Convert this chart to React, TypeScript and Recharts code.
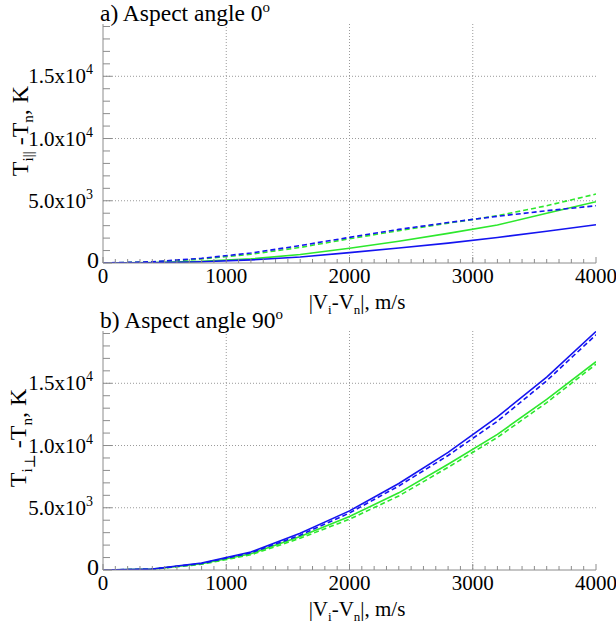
import React from "react";
import { CartesianGrid, Line, LineChart, XAxis, YAxis } from "recharts";

// |Vi - Vn|, m/s
const SPEED = [0, 400, 800, 1200, 1600, 2000, 2400, 2800, 3200, 3600, 4000];

// a) aspect angle 0°: Ti|| - Tn, K
const PAR_BLUE = [0, 20, 100, 250, 480, 830, 1200, 1600, 2050, 2550, 3075];
const PAR_BLUE_DASH = [0, 100, 380, 800, 1400, 2060, 2700, 3250, 3750, 4200, 4600];
const PAR_GREEN = [0, 30, 130, 330, 680, 1180, 1750, 2380, 3050, 4000, 4920];
const PAR_GREEN_DASH = [0, 80, 320, 700, 1250, 1950, 2600, 3200, 3800, 4600, 5540];

// b) aspect angle 90°: Ti⊥ - Tn, K
const PERP_BLUE = [0, 80, 560, 1450, 2950, 4750, 6950, 9450, 12300, 15500, 19160];
const PERP_BLUE_DASH = [0, 70, 520, 1380, 2800, 4580, 6750, 9200, 11950, 15200, 18900];
const PERP_GREEN = [0, 70, 500, 1300, 2700, 4300, 6200, 8500, 10900, 13700, 16740];
const PERP_GREEN_DASH = [0, 60, 460, 1220, 2550, 4080, 5950, 8250, 10650, 13450, 16530];

const X_MAJOR = [0, 1000, 2000, 3000, 4000];
const Y_MAJOR = [0, 5000, 10000, 15000];
const Y_MANTISSA = ["0", "5.0x10", "1.0x10", "1.5x10"];
const Y_EXPONENT = ["", "3", "4", "4"];

const X_MAX = 4000;
const Y_MAX = 19200;
const X_MINOR = Array.from({ length: X_MAX / 100 + 1 }, (_, i) => i * 100);
const Y_MINOR = Array.from({ length: 20 }, (_, i) => i * 1000);

const BLUE = "#1414f0";
const GREEN = "#2de82d";
const FRAME = "#8c8c8c";
const FONT = '"Liberation Serif", "DejaVu Serif", Times, serif';

const W = 616;
const H = 317;
const PLOT_LEFT = 103;
const PLOT_RIGHT = 20;
const PLOT_TOP = 24;
const PLOT_BOTTOM = 54;

function rowsFrom(blue: number[], blueDash: number[], green: number[], greenDash: number[]) {
  return SPEED.map((v, i) => ({
    v,
    blue: blue[i],
    blueDash: blueDash[i],
    green: green[i],
    greenDash: greenDash[i],
  }));
}

function BottomTick(props: any) {
  const { x, y, payload } = props;
  const major = X_MAJOR.includes(payload.value);
  return (
    <g>
      <line x1={x} y1={y} x2={x} y2={y - (major ? 6 : 4)} stroke={FRAME} />
      {major && (
        <text x={x} y={y + 20} textAnchor="middle" fontSize={21} style={{ fontFamily: FONT }} fill="#000">
          {payload.value}
        </text>
      )}
    </g>
  );
}

function TopTick(props: any) {
  const { x, y, payload } = props;
  const major = X_MAJOR.includes(payload.value);
  return <line x1={x} y1={y} x2={x} y2={y + (major ? 6 : 4)} stroke={FRAME} />;
}

function LeftTick(props: any) {
  const { x, y, payload } = props;
  const idx = Y_MAJOR.indexOf(payload.value);
  const major = idx >= 0;
  return (
    <g>
      <line x1={x} y1={y} x2={x + (major ? 9 : 7)} y2={y} stroke={FRAME} />
      {major && idx === 0 && (
        <text x={x - 4} y={y + 5} textAnchor="end" fontSize={24} style={{ fontFamily: FONT }} fill="#000">
          0
        </text>
      )}
      {major && idx > 0 && (
        <text x={x - 10} y={y + 7} textAnchor="end" fontSize={21} style={{ fontFamily: FONT }} fill="#000">
          {Y_MANTISSA[idx]}
          <tspan fontSize={14} dy={-9}>
            {Y_EXPONENT[idx]}
          </tspan>
        </text>
      )}
    </g>
  );
}

function RightTick(props: any) {
  const { x, y, payload } = props;
  const major = Y_MAJOR.includes(payload.value);
  return <line x1={x} y1={y} x2={x - (major ? 9 : 7)} y2={y} stroke={FRAME} />;
}

function Panel({
  top,
  title,
  yLabel,
  rows,
}: {
  top: number;
  title: React.ReactNode;
  yLabel: React.ReactNode;
  rows: ReturnType<typeof rowsFrom>;
}) {
  const labelStyle: React.CSSProperties = {
    position: "absolute",
    fontFamily: FONT,
    whiteSpace: "nowrap",
    color: "#000",
    lineHeight: 1,
  };
  return (
    <div style={{ position: "absolute", left: 0, top, width: W, height: H }}>
      <LineChart
        width={W}
        height={H}
        data={rows}
        margin={{ top: PLOT_TOP, right: PLOT_RIGHT, bottom: PLOT_BOTTOM - 30, left: 0 }}
      >
        <CartesianGrid
          stroke="#9a9a9a"
          strokeDasharray="1 2"
          verticalValues={[1000, 2000, 3000]}
          horizontalValues={[5000, 10000, 15000]}
        />
        <XAxis
          dataKey="v"
          type="number"
          domain={[0, X_MAX]}
          ticks={X_MINOR}
          interval={0}
          height={30}
          tickSize={0}
          tickMargin={0}
          tick={<BottomTick />}
          axisLine={{ stroke: FRAME }}
          allowDataOverflow
        />
        <XAxis
          xAxisId="top"
          dataKey="v"
          type="number"
          orientation="top"
          domain={[0, X_MAX]}
          ticks={X_MINOR}
          interval={0}
          height={0}
          tickSize={0}
          tickMargin={0}
          tick={<TopTick />}
          axisLine={{ stroke: FRAME }}
        />
        <YAxis
          type="number"
          domain={[0, Y_MAX]}
          ticks={Y_MINOR}
          interval={0}
          width={PLOT_LEFT}
          tickSize={0}
          tickMargin={0}
          tick={<LeftTick />}
          axisLine={{ stroke: FRAME }}
          allowDataOverflow
        />
        <YAxis
          yAxisId="right"
          type="number"
          orientation="right"
          domain={[0, Y_MAX]}
          ticks={Y_MINOR}
          interval={0}
          width={0}
          tickSize={0}
          tickMargin={0}
          tick={<RightTick />}
          axisLine={{ stroke: FRAME }}
        />
        <Line dataKey="greenDash" type="linear" stroke={GREEN} strokeWidth={1.6} strokeDasharray="5 3" dot={false} isAnimationActive={false} />
        <Line dataKey="green" type="linear" stroke={GREEN} strokeWidth={1.6} dot={false} isAnimationActive={false} />
        <Line dataKey="blueDash" type="linear" stroke={BLUE} strokeWidth={1.6} strokeDasharray="5 3" dot={false} isAnimationActive={false} />
        <Line dataKey="blue" type="linear" stroke={BLUE} strokeWidth={1.6} dot={false} isAnimationActive={false} />
      </LineChart>
      <div style={{ ...labelStyle, left: 100, top: 0, fontSize: 23.5 }}>{title}</div>
      <div
        style={{
          ...labelStyle,
          left: 22,
          top: 131,
          fontSize: 24,
          transform: "translate(-50%, -50%) rotate(-90deg)",
        }}
      >
        {yLabel}
      </div>
      <div style={{ ...labelStyle, left: 357, top: 302, fontSize: 21, transform: "translate(-50%, -50%)" }}>
        |V<sub style={{ fontSize: 13, lineHeight: 0 }}>i</sub>-V<sub style={{ fontSize: 13, lineHeight: 0 }}>n</sub>|, m/s
      </div>
    </div>
  );
}

export default function App() {
  const parRows = rowsFrom(PAR_BLUE, PAR_BLUE_DASH, PAR_GREEN, PAR_GREEN_DASH);
  const perpRows = rowsFrom(PERP_BLUE, PERP_BLUE_DASH, PERP_GREEN, PERP_GREEN_DASH);
  return (
    <div style={{ position: "absolute", left: 0, top: 0, width: 616, height: 634, background: "#fff" }}>
      <Panel
        top={0}
        rows={parRows}
        title={
          <>
            a) Aspect angle 0<sup style={{ fontSize: 15 }}>o</sup>
          </>
        }
        yLabel={
          <>
            T<sub style={{ fontSize: 15 }}>i||</sub> -T<sub style={{ fontSize: 15 }}>n</sub>, K
          </>
        }
      />
      <Panel
        top={307}
        rows={perpRows}
        title={
          <>
            b) Aspect angle 90<sup style={{ fontSize: 15 }}>o</sup>
          </>
        }
        yLabel={
          <>
            T<sub style={{ fontSize: 15 }}>i</sub>
            <sub style={{ fontSize: 15, verticalAlign: "-0.6em" }}>⊥</sub> -T<sub style={{ fontSize: 15 }}>n</sub>, K
          </>
        }
      />
    </div>
  );
}
